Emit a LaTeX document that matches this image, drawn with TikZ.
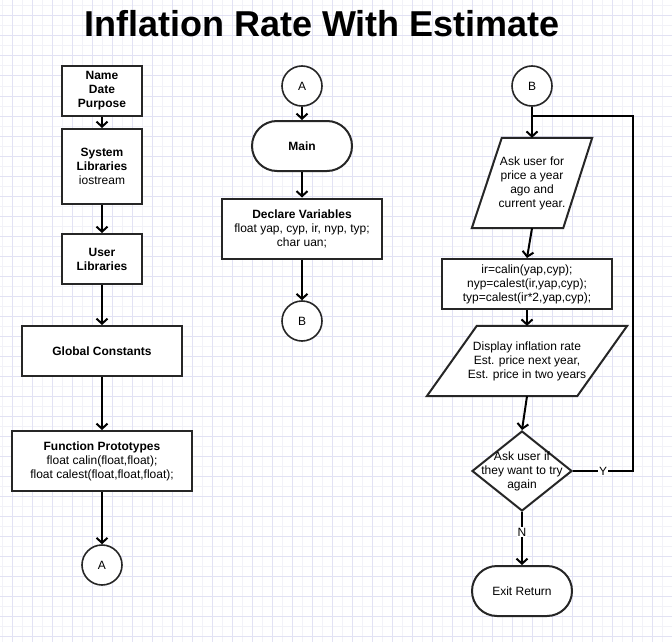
\documentclass[tikz,border=0pt]{standalone}
\usepackage{fontspec}
\setmainfont{Liberation Sans}
\usetikzlibrary{arrows.meta,shapes.geometric,backgrounds,calc}

\definecolor{gridmajor}{RGB}{226,226,244}
\definecolor{gridminor}{RGB}{242,242,248}

\tikzset{
    box/.style={draw=black!85, line width=2pt, fill=white, rectangle, align=center, inner sep=0pt},
    term/.style={draw=black!85, line width=2pt, fill=white, rectangle, rounded corners=25pt,
        minimum width=100pt, minimum height=50pt, inner sep=0pt},
    conn/.style={draw=black!85, line width=1.6pt, fill=white, circle, minimum size=40pt, inner sep=0pt},
    io/.style={rectangle, align=center, inner sep=0pt},
    decision/.style={draw=black!85, line width=2pt, fill=white, diamond, minimum width=100pt,
        minimum height=80pt, inner sep=0pt},
    flow/.style={line width=2pt, -{Straight Barb[length=5pt,width=11pt]}},
    lbl/.style={fill=white, inner sep=1pt},
}

\begin{document}
\begin{tikzpicture}[x=1pt, y=-1pt, font=\fontsize{12}{14}\selectfont]
    \useasboundingbox (0,0) rectangle (672,642);

    % Grid
    \begin{scope}[on background layer]
        \fill[white] (0,0) rectangle (672,642);
        \foreach \x in {2,22,...,662} \draw[gridminor, line width=1pt] (\x,0) -- (\x,642);
        \foreach \y in {6,26,...,626} \draw[gridminor, line width=1pt] (0,\y) -- (672,\y);
        \foreach \x in {12,32,...,672} \draw[gridmajor, line width=1pt] (\x,0) -- (\x,642);
        \foreach \y in {16,36,...,636} \draw[gridmajor, line width=1pt] (0,\y) -- (672,\y);
    \end{scope}

    % Title
    \node[anchor=base, font=\fontsize{36}{40}\selectfont\bfseries] (title) at (322,37) {Inflation Rate With Estimate};

    % Column 1
    \node[box, minimum width=80pt, minimum height=50pt] (info) at (102,91) {\textbf{Name}\\\textbf{Date}\\\textbf{Purpose}};
    \node[box, minimum width=80pt, minimum height=75pt] (syslib) at (102,166.5) {\textbf{System}\\\textbf{Libraries}\\iostream};
    \node[box, minimum width=80pt, minimum height=50pt] (userlib) at (102,259) {\textbf{User}\\\textbf{Libraries}};
    \node[box, minimum width=160pt, minimum height=50pt] (globconst) at (102,351) {\textbf{Global Constants}};
    \node[box, minimum width=180pt, minimum height=60pt] (protos) at (102,461) {\textbf{Function Prototypes}\\float calin(float,float);\\float calest(float,float,float);};
    \node[conn] (leftA) at (102,565) {A};

    % Column 2
    \node[conn] (midA) at (302,86) {A};
    \node[term] (main) at (302,146) {\textbf{Main}};
    \node[box, minimum width=160pt, minimum height=60pt] (declare) at (302,228.5) {\textbf{Declare Variables}\\float yap, cyp, ir, nyp, typ;\\char uan;};
    \node[conn] (midB) at (302,321) {B};

    % Column 3
    \node[conn] (rightB) at (532,86) {B};
    \node[io, minimum width=120pt, minimum height=90pt] (askprice) at (532,183) {Ask user for\\price a year\\ago and\\current year.};
    \node[box, minimum width=170pt, minimum height=50pt] (calc) at (527,284) {ir=calin(yap,cyp);\\nyp=calest(ir,yap,cyp);\\typ=calest(ir*2,yap,cyp);};
    \node[io, minimum width=200pt, minimum height=70pt] (display) at (527,361) {Display inflation rate\\Est. price next year,\\Est. price in two years};
    \node[decision, label={[align=center]center:Ask user if\\they want to try\\again}] (again) at (522,471) {};
    \node[term] (exit) at (522,591) {Exit Return};

    % Parallelograms
    \begin{scope}[on background layer]
        \draw[draw=black!85, line width=2pt, fill=white] (askprice.south west) -- ($(askprice.south east)+(-29,0)$)
            -- (askprice.north east) -- ($(askprice.north west)+(30,0)$) -- cycle;
        \draw[draw=black!85, line width=2pt, fill=white] (display.south west) -- ($(display.south east)+(-50,0)$)
            -- (display.north east) -- ($(display.north west)+(50,0)$) -- cycle;
    \end{scope}

    % Relations
    \draw[flow] (info) -- (syslib);
    \draw[flow] (syslib) -- (userlib);
    \draw[flow] (userlib) -- (globconst);
    \draw[flow] (globconst) -- (protos);
    \draw[flow] (protos) -- (leftA);

    \draw[flow] (midA) -- (main);
    \draw[flow] (main) -- (declare);
    \draw[flow] (declare) -- (midB);

    \coordinate (loopjoin) at (532,116);
    \coordinate (loopturn) at (633,116);
    \draw[flow] (rightB) -- (askprice);
    \draw[flow] (askprice.south) -- (calc.north);
    \draw[flow] (calc) -- (display);
    \draw[flow] (display.south) -- (again.north);
    \draw[flow] (again.south) -- node[lbl, pos=0.38] {N} (exit.north);
    \draw[line width=2pt] (again.east) -- node[lbl] {Y} (again.east -| loopturn) -- (loopturn) -- (loopjoin);

\end{tikzpicture}
\end{document}
